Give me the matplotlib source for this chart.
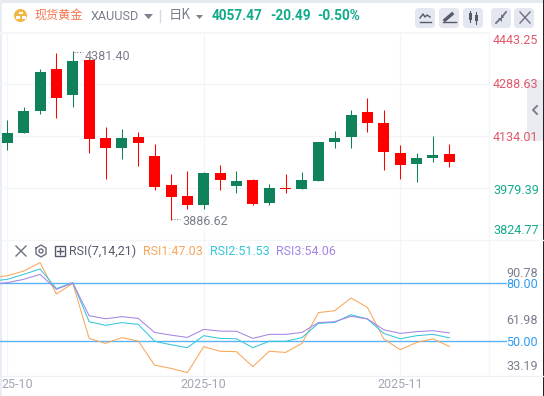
import numpy as np
import matplotlib
matplotlib.use("Agg")
import matplotlib.pyplot as plt
from matplotlib.patches import Circle, FancyBboxPatch, Rectangle

plt.rcParams['font.family'] = ['Roboto', 'Noto Sans CJK SC', 'DejaVu Sans']

# daily candles
opens = [4113, 4143, 4209, 4335, 4257, 4362, 4128, 4098, 4131, 4074, 3987, 3954, 3927, 4023,
         3984, 4002, 3933, 3978, 3975, 3999, 4116, 4131, 4206, 4173, 4083, 4050, 4068, 4080]
closes = [4143, 4209, 4326, 4248, 4359, 4125, 4098, 4128, 4113, 3981, 3951, 3927, 4023, 4002,
          3999, 3930, 3978, 3975, 4002, 4116, 4128, 4197, 4173, 4086, 4047, 4068, 4077, 4056]
highs = [4182, 4221, 4335, 4383, 4389, 4372, 4161, 4155, 4146, 4110, 4020, 4029, 4026, 4047,
         4029, 4005, 3990, 4020, 4026, 4116, 4149, 4212, 4248, 4212, 4107, 4083, 4134, 4110]
lows = [4092, 4143, 4200, 4188, 4221, 4083, 4005, 4065, 4044, 3972, 3882, 3915, 3915, 3972,
        3963, 3927, 3927, 3963, 3975, 3999, 4098, 4098, 4146, 4032, 4005, 3996, 4056, 4041]

# first value belongs to the candle just off the left edge
rsi1 = [82.8, 83.8, 86.2, 90.6, 74.3, 79.8, 51.2, 48.6, 51.6, 49.8, 37.3, 35.6, 33.4, 46.9, 44.5,
        44.3, 36.5, 44.5, 43.9, 48.6, 64.6, 65.6, 72.2, 67.3, 50.9, 45.3, 49.1, 51.0, 47.03]
rsi2 = [81.0, 81.9, 84.5, 87.3, 77.1, 80.2, 59.9, 58.0, 59.4, 58.5, 49.7, 47.9, 46.4, 52.6, 51.2,
        51.0, 46.4, 49.7, 49.7, 51.6, 59.0, 59.5, 63.5, 61.3, 53.8, 51.0, 52.6, 53.3, 51.53]
rsi3 = [79.3, 80.2, 81.9, 84.5, 76.7, 80.0, 63.0, 61.4, 62.5, 61.6, 54.3, 52.9, 51.7, 55.9, 55.0,
        54.9, 51.2, 53.3, 53.3, 54.3, 59.4, 59.9, 62.7, 61.3, 55.7, 53.8, 54.7, 55.2, 54.06]

price_ticks = [4288.63, 4134.01, 3979.39]
rsi_levels = [80, 50]
date_ticks = [0, 12, 24]
date_labels = ['25-10', '2025-10', '2025-11']

W, H = 544, 396
GREEN = '#0f8259'
RED = '#ff0000'
GRID = '#f4f5f8'
TICK_RED = '#e0596a'
TICK_GREEN = '#12ab8c'
GREY = '#7b7f8e'
ICON = '#55596a'
ORANGE = '#f9a65a'
CYAN = '#35c6dc'
PURPLE = '#a585e4'
BLUE = '#5db4f5'


def px_axes(left, top, right, bottom):
    return fig.add_axes([left / W, 1 - bottom / H, (right - left) / W, (bottom - top) / H])


fig = plt.figure(figsize=(W / 100, H / 100), dpi=100, facecolor='white')

# window chrome drawn in pixel coordinates
bg = fig.add_axes([0, 0, 1, 1], zorder=0)
bg.set_xlim(0, W)
bg.set_ylim(H, 0)
bg.axis('off')
bg.add_patch(Rectangle((0, 0), W, 2.5, color='#e6e9f0', lw=0))
bg.add_patch(Rectangle((0, 0), 1.5, H, color='#e9ecf5', lw=0))
bg.add_patch(Rectangle((0, 31.5), 489, 2, color='#f5f6f9', lw=0))
bg.add_patch(Rectangle((543, 0), 1, H, color='#222222', lw=0))
bg.plot([489, 489], [33, 375], color=GRID, lw=1)
bg.plot([2, 543], [239.5, 239.5], color=GRID, lw=1)
bg.plot([2, 543], [375.5, 375.5], color='#eef0f6', lw=1)

# header
bg.add_patch(Circle((20.5, 15.5), 6.5, color='#f2b741', lw=0))
for cx, cy in [(20.5, 13), (17.5, 17.5), (23.5, 17.5)]:
    bg.add_patch(Rectangle((cx - 2, cy - 1.2), 4, 2.6, color='white', lw=0))
bg.text(35, 15.5, '现货黄金', color='#f5744c', fontsize=8.7, va='center', family=['Noto Sans CJK SC'])
bg.text(91, 16, 'XAUUSD', color=GREY, fontsize=9.1, va='center')
bg.fill([144, 153, 148.5], [14, 14, 19], color=GREY, lw=0)
bg.plot([160, 160], [10, 22], color='#d9dbe2', lw=1)
bg.text(169, 15.5, '日K', color=GREY, fontsize=9.6, va='center', family=['Noto Sans CJK SC'])
bg.fill([196, 203, 199.5], [15, 15, 19], color=GREY, lw=0)
bg.text(212, 15.5, '4057.47', color=TICK_GREEN, fontsize=9.8, weight='bold', va='center')
bg.text(270, 15.5, '-20.49', color=TICK_GREEN, fontsize=9.8, weight='bold', va='center')
bg.text(317, 15.5, '-0.50%', color=TICK_GREEN, fontsize=9.8, weight='bold', va='center')

# toolbar buttons
for bx in [415, 439, 463, 491, 514]:
    bg.add_patch(FancyBboxPatch((bx + 3, 11), 14, 14, boxstyle='round,pad=3,rounding_size=4',
                                fc='#e4e7ef', ec='none'))
bg.plot([420, 423, 425, 427, 430], [18, 14, 17, 15, 17], color=ICON, lw=1)
bg.plot([420, 431], [21.5, 21.5], color=ICON, lw=1)
bg.plot([445, 452], [20, 14], color=ICON, lw=2.4)
bg.plot([443, 456], [22, 22], color=ICON, lw=1)
bg.add_patch(Rectangle((468.5, 13), 3.5, 7, color=ICON, lw=0))
bg.add_patch(Rectangle((474.5, 15), 3.5, 6, color=ICON, lw=0))
bg.plot([470.2, 470.2], [11, 22], color=ICON, lw=0.8)
bg.plot([476.2, 476.2], [12, 24], color=ICON, lw=0.8)
bg.plot([496, 500], [23, 19], color='#6c7080', lw=1.3)
bg.plot([502, 506], [17, 12], color='#6c7080', lw=1.3)
bg.fill([498, 501.5, 501.5], [18, 18, 21.5], color='#6c7080', lw=0)
bg.fill([500.5, 500.5, 504], [14, 17.5, 17.5], color='#6c7080', lw=0)
bg.plot([520, 530], [12, 23], color='#6c7080', lw=1)
bg.plot([530, 520], [12, 23], color='#6c7080', lw=1)

# collapse tab on the right
bg.add_patch(Rectangle((527, 80), 16, 61, color='#ebebf2', lw=0))
bg.plot([537, 533, 537], [106, 110, 114], color=GREY, lw=1.4)

# candles
xlim = (-7.3 / 16.37, (489 - 7.3) / 16.37)
x = np.arange(len(opens))
ax = px_axes(0, 33, 489, 239.5)
ax.patch.set_alpha(0)
ax.set_xlim(xlim)
ax.set_ylim(4134 - (239.5 - 136) * 3, 4134 + (136 - 33) * 3)
colors = [GREEN if c >= o else RED for o, c in zip(opens, closes)]
ax.vlines(x, lows, highs, colors=colors, lw=0.75, zorder=3)
ax.bar(x, np.abs(np.array(closes) - np.array(opens)), bottom=np.minimum(opens, closes),
       width=11 / 16.37, color=colors, lw=0, zorder=3)
ax.set_yticks(price_ticks)
ax.set_xticks(date_ticks)
ax.grid(True, color=GRID, lw=1)
ax.set_axisbelow(True)
ax.tick_params(length=0, labelleft=False, labelbottom=False)
for s in ax.spines.values():
    s.set_visible(False)

# high and low markers with their dotted leaders
bg.plot([74, 82.5], [52, 52], color=GREY, lw=0.8, ls=(0, (1, 1.5)), zorder=5)
bg.plot([171, 180], [219, 219], color=GREY, lw=0.8, ls=(0, (1, 1.5)), zorder=5)
ax.text(4.7, 4372, '4381.40', color=GREY, fontsize=9, va='center')
ax.text(10.72, 3877, '3886.62', color=GREY, fontsize=9, va='center')

# price labels, the top and bottom ones are pushed inside the panel
bg.text(493, 41, '4443.25', color=TICK_RED, fontsize=9, va='center')
bg.text(493, 85, '4288.63', color=TICK_RED, fontsize=9, va='center')
bg.text(493, 137.5, '4134.01', color=TICK_RED, fontsize=9, va='center')
bg.text(493, 190, '3979.39', color=TICK_GREEN, fontsize=9, va='center')
bg.text(493, 231, '3824.77', color=TICK_GREEN, fontsize=9, va='center')

# RSI panel
rx = np.arange(-1, len(opens))
ax2 = px_axes(0, 239.5, 489, 375.5)
ax2.patch.set_alpha(0)
ax2.set_xlim(xlim)
ax2.set_ylim(50 - (375.5 - 340.7) / 1.923, 50 + (340.7 - 239.5) / 1.923)
ax2.plot(rx, rsi1, color=ORANGE, lw=0.75, zorder=3)
ax2.plot(rx, rsi2, color=CYAN, lw=0.75, zorder=3)
ax2.plot(rx, rsi3, color=PURPLE, lw=0.75, zorder=3)
for level in rsi_levels:
    ax2.axhline(level, color=BLUE, lw=1, zorder=2)
ax2.set_xticks(date_ticks)
ax2.set_yticks([])
ax2.grid(True, axis='x', color=GRID, lw=1)
ax2.set_axisbelow(True)
ax2.tick_params(length=0, labelleft=False, labelbottom=False)
for s in ax2.spines.values():
    s.set_visible(False)

bg.plot([489, 506], [283, 283], color=BLUE, lw=1, zorder=2)
bg.plot([489, 506], [340.7, 340.7], color=BLUE, lw=1, zorder=2)
bg.text(506, 273.5, '90.78', color=GREY, fontsize=9, va='center')
bg.text(506, 284, '80.00', color='#2f9bf0', fontsize=9, va='center')
bg.text(506, 320.5, '61.98', color=GREY, fontsize=9, va='center')
bg.text(506, 342, '50.00', color='#2f9bf0', fontsize=9, va='center')
bg.text(506, 367, '33.19', color=GREY, fontsize=9, va='center')

# RSI legend row
bg.plot([16, 26], [246, 256], color='#6c7080', lw=1)
bg.plot([26, 16], [246, 256], color='#6c7080', lw=1)
bg.plot([36, 41, 46, 46, 41, 36, 36], [248, 245, 248, 254, 257, 254, 248], color='#6c7080', lw=1)
bg.add_patch(Circle((41, 251), 2, fc='none', ec='#6c7080', lw=1))
bg.add_patch(Rectangle((55, 246), 10, 10, fc='none', ec=ICON, lw=1))
bg.plot([60, 60], [248, 254], color=ICON, lw=1)
bg.plot([57, 63], [251, 251], color=ICON, lw=1)
bg.text(69.5, 251.5, 'RSI(7,14,21)', color=ICON, fontsize=9, va='center')
bg.text(143.5, 251.5, 'RSI1:47.03', color=ORANGE, fontsize=9, va='center')
bg.text(210, 251.5, 'RSI2:51.53', color=CYAN, fontsize=9, va='center')
bg.text(276, 251.5, 'RSI3:54.06', color=PURPLE, fontsize=9, va='center')

# date labels, the first one runs off the left edge
bg.text(1, 384, date_labels[0], color='#a3a6b4', fontsize=9, va='center')
bg.text(203.5, 384, date_labels[1], color='#a3a6b4', fontsize=9, va='center', ha='center')
bg.text(400, 384, date_labels[2], color='#a3a6b4', fontsize=9, va='center', ha='center')

fig.savefig('out.png', dpi=100)
